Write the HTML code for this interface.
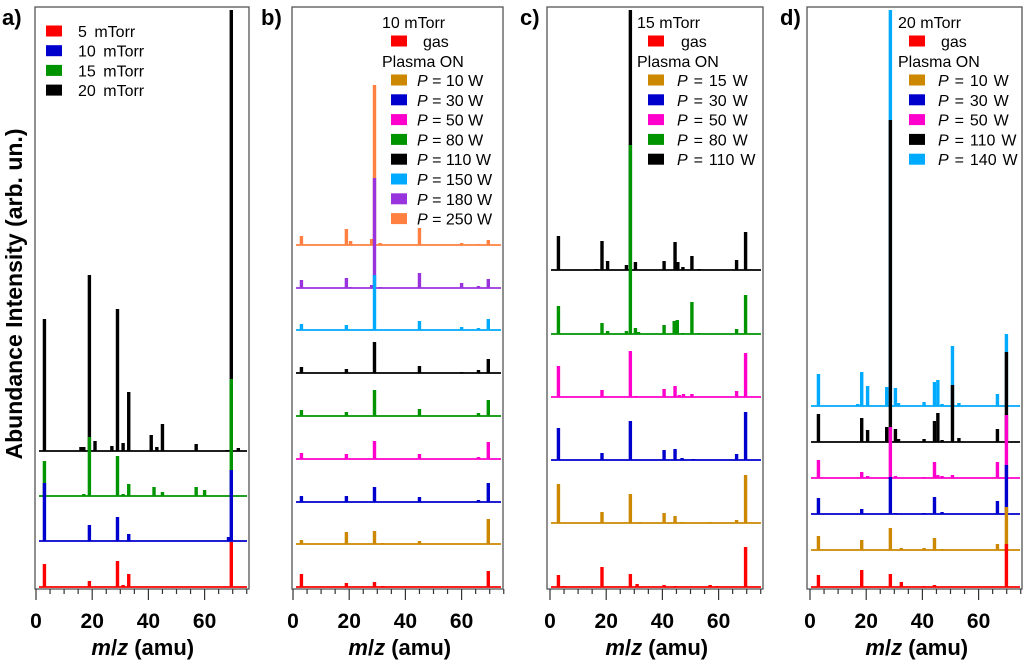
<!DOCTYPE html>
<html><head><meta charset="utf-8"><style>
html,body{margin:0;padding:0;background:#fff;}
svg{display:block;font-family:"Liberation Sans",Arial,sans-serif;}
</style></head><body>
<svg id="fig" width="1024" height="660" viewBox="0 0 1024 660" xmlns="http://www.w3.org/2000/svg"></svg>
<script>
// ---------- DATA ----------
const aNames = ["5 mTorr","10 mTorr","15 mTorr","20 mTorr"];
const aColors = ["#ff0000","#0000cc","#009400","#000000"];
const aOffsets = [0,46,91,136];
const aMz = [
 [3,19,29,31,33,69.5],
 [3,19,29,33,68.5,69.5],
 [3,17,19,29,31,33,42,45,57,60,69.5],
 [3,16,17,19,21,27,29,31,33,41,43,45,57,68,69.5,72]
];
const aInt = [
 [23,6,26,2,13,45],
 [58,16,24,7,4,71],
 [35,2,59,40,2,12,9,4,9,6,117],
 [132,4,4,176,10,5,142,8,59,16,4,27,7,1,441,3]
];
const bNames = ["gas","P = 10 W","P = 30 W","P = 50 W","P = 80 W","P = 110 W","P = 150 W","P = 180 W","P = 250 W"];
const bColors = ["#ff0000","#cc8800","#0000cc","#ff00cc","#009400","#000000","#00aaff","#9933dd","#ff8040"];
const bOffsets = [0,43,85,128,171,214,257,299,342];
const bMz = [
 [3,19,29,32,69.5],
 [3,19,29,32,45,69.5],
 [3,19,29,45,66,69.5],
 [3,19,29,45,66,69.5],
 [3,19,29,45,66,69.5],
 [3,19,29,45,60,66,69.5],
 [3,19,28,29,45,60,66,69.5],
 [3,19,20.5,28,29,31,45,60,66,69.5],
 [3,19,20.5,28,29,31,45,60,66,69.5]
];
const bInt = [
 [13,4,5,1,16],
 [4,12,13,1,3,25],
 [6,6,15,5,2,19],
 [6,5,18,5,2,17],
 [6,4,26,7,3,16],
 [6,4,31,7,1,3,14],
 [6,5,1,55,9,3,2,11],
 [8,10,1,3,110,1,15,5,2,9],
 [9,16,4,6,160,2,17,2,1,5]
];
const cNames = ["gas","P = 15 W","P = 30 W","P = 50 W","P = 80 W","P = 110 W"];
const cColors = ["#ff0000","#cc8800","#0000cc","#ff00cc","#009400","#000000"];
const cOffsets = [0,64,127,190,253,317];
const cMz = [
 [3,5,18.5,28.6,31,40.6,44.5,57,59.5,69.6],
 [3,18.5,28.6,32,40.6,44.5,47,57,66.4,69.6],
 [3,18.5,28.6,40.6,44.5,47,51,66.4,69.6],
 [3,18.5,28.6,30.5,40.6,44.5,46,47.5,50.5,66.4,69.6],
 [3,18.5,20.5,27.2,28.6,30.4,31.5,40.6,44.2,45.3,47.3,50.5,53,66.4,69.6],
 [3,16.5,18.5,20.5,27.2,28.6,30.4,40.6,44.5,45.5,47.3,50.5,53,66.4,69.6]
];
const cInt = [
 [12,1,20,13,3,2,1,2,1,40],
 [39,11,29,1,10,7,1,1,3,48],
 [32,7,39,10,11,2,1,6,48],
 [31,7,46,1,8,11,2,3,3,6,44],
 [28,11,3,3,189,6,2,9,13,14,1,32,1,5,39],
 [34,1,29,9,5,260,8,9,28,8,3,14,1,10,38]
];
const dNames = ["gas","P = 10 W","P = 30 W","P = 50 W","P = 110 W","P = 140 W"];
const dColors = ["#ff0000","#cc8800","#0000cc","#ff00cc","#000000","#00aaff"];
const dOffsets = [0,37,73,109,145,181];
const dMz = [
 [3,18.4,28.6,32.5,40.6,44.3,69.9],
 [3,18.4,28.6,32.5,40.6,44.3,47,66.7,69.9],
 [3,18.4,28.6,30.4,40.6,44.3,47,66.7,69.9],
 [3,18.4,20.5,28.6,30.4,40.6,44.3,45.5,47,50.7,66.7,69.9],
 [3,18.4,20.5,27.3,28.6,30.4,31.5,40.6,44.3,45.5,47,50.7,53,66.7,69.9],
 [3,17,18.4,20.5,27.3,28.6,30.4,31.5,40.6,44.3,45.5,47,50.7,53,66.7,69.9]
];
const dInt = [
 [12,17,13,5,1,2,43],
 [14,10,22,2,2,12,1,6,43],
 [16,5,37,1,1,17,2,13,49],
 [18,6,2,51,2,1,16,3,2,3,16,63],
 [28,24,12,15,322,13,3,3,21,29,2,57,4,13,90],
 [32,2,34,20,19,396,18,3,4,24,26,2,60,3,12,72]
];
const xTicks = [0,20,40,60];

// ---------- LAYOUT ----------
const NS="http://www.w3.org/2000/svg";
const svg=document.getElementById('fig');
function mk(tag,attrs,parent){const e=document.createElementNS(NS,tag);for(const k in attrs)e.setAttribute(k,attrs[k]);(parent||svg).appendChild(e);return e;}
const BASE_Y=587, TOP=7, BOT=589;
const panels=[
 {id:'a',label:'a)',lx:2,left:35,right:249,x0:36,names:aNames,colors:aColors,offs:aOffsets,mz:aMz,it:aInt},
 {id:'b',label:'b)',lx:261,left:292,right:503,x0:293,names:bNames,colors:bColors,offs:bOffsets,mz:bMz,it:bInt,
  leg:{title:'10 mTorr',tx:382,sq:391,gtx:423,ptx:417,ws:0}},
 {id:'c',label:'c)',lx:520,left:547,right:763,x0:550,names:cNames,colors:cColors,offs:cOffsets,mz:cMz,it:cInt,
  leg:{title:'15 mTorr',tx:637,sq:648,gtx:681,ptx:677,ws:1.5}},
 {id:'d',label:'d)',lx:780,left:807,right:1022,x0:810,names:dNames,colors:dColors,offs:dOffsets,mz:dMz,it:dInt,
  leg:{title:'20 mTorr',tx:898,sq:909,gtx:941,ptx:938,ws:1.5}}
];
const SLOPE=2.81;
panels.forEach(p=>{
  const g=mk('g',{});
  
  
  const xs=v=>p.x0+v*SLOPE;
  const ys=v=>BASE_Y-v;
  for(let t=p.names.length-1;t>=0;t--){
    const tg=mk('g',{},g);
    
    
    const off=p.offs[t];
    const bl=mk('line',{x1:p.left+4,x2:p.right-2,y1:ys(off),y2:ys(off),stroke:p.colors[t],'stroke-width':1.8},tg);
    
    
    p.mz[t].forEach((m,i)=>{
      const h=p.it[t][i];
      const r=mk('rect',{x:xs(m)-1.7,y:ys(off+h),width:3.4,height:h,fill:p.colors[t]},tg);
      
      
    });
  }
  const fr=mk('rect',{x:p.left,y:TOP,width:p.right-p.left,height:BOT-TOP,fill:'none',stroke:'#555','stroke-width':1.3},g);
  
  
  for(let v=0;v<=75;v+=5){
    const major=v%20===0;
    const tk=mk('line',{x1:xs(v),x2:xs(v),y1:BOT,y2:BOT+(major?11:5),stroke:'#333','stroke-width':1.2},g);
    
    
  }
  xTicks.forEach(v=>{
    const tl=mk('text',{x:xs(v),y:628,'text-anchor':'middle','font-size':21,'font-weight':'bold'},g);
    tl.textContent=v;
    
    
  });
  const xt=mk('text',{x:xs(38),y:655,'text-anchor':'middle','font-size':22,'font-weight':'bold'},g);
  xt.innerHTML='<tspan font-style="italic">m</tspan>/<tspan font-style="italic">z</tspan> (amu)';
  
  
  const pl=mk('text',{x:p.lx,y:25,'font-size':22,'font-weight':'bold'},g);
  pl.textContent=p.label;
  
  
  const lg=mk('g',{'font-size':16},g);
  
  
  if(p.id==='a'){
    p.names.forEach((n,i)=>{
      const y=31+i*19.7;
      const s=mk('rect',{x:46,y:y-5.5,width:16,height:11,fill:p.colors[i]},lg);
      
      
      const t=mk('text',{x:78,y:y+6,'word-spacing':3},lg);
      t.textContent=n;
      
      
    });
  } else {
    const L=p.leg;
    const t0=mk('text',{x:L.tx,y:28},lg); t0.textContent=L.title;
    
    
    const s0=mk('rect',{x:L.sq,y:35.5,width:16,height:11,fill:p.colors[0]},lg);
    
    
    const g0=mk('text',{x:L.gtx,y:47},lg); g0.textContent='gas';
    
    
    const po=mk('text',{x:L.tx,y:67},lg); po.textContent='Plasma ON';
    
    
    for(let i=1;i<p.names.length;i++){
      const y=80+(i-1)*19.8;
      const s=mk('rect',{x:L.sq,y:y-5.5,width:16,height:11,fill:p.colors[i]},lg);
      
      
      const t=mk('text',{x:L.ptx,y:y+6,'word-spacing':L.ws},lg);
      t.innerHTML='<tspan font-style="italic">P</tspan>'+p.names[i].slice(1);
      
      
    }
  }
});
const yt=mk('text',{x:0,y:0,transform:'translate(22,294) rotate(-90)','text-anchor':'middle','font-size':23,'font-weight':'bold'});
yt.textContent='Abundance Intensity (arb. un.)';


</script>
</body></html>
